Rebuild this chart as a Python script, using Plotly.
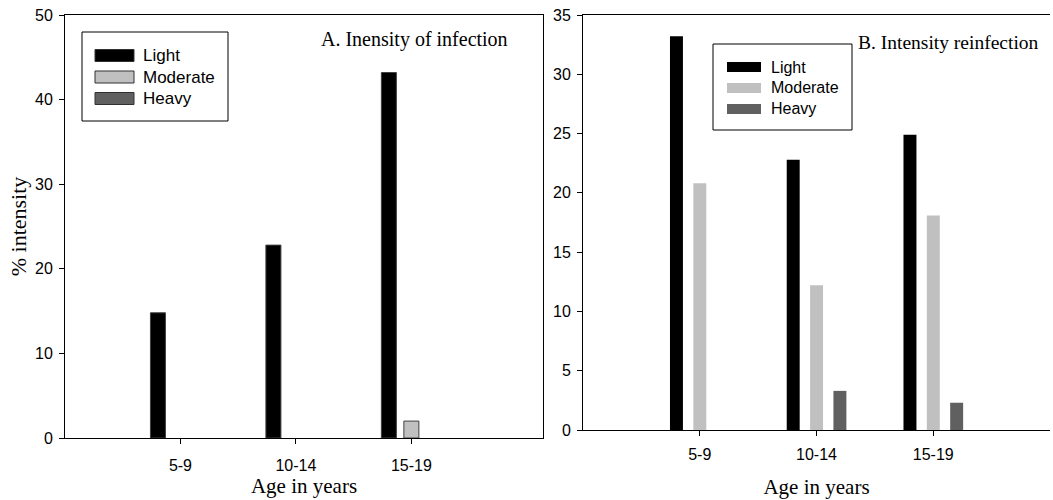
import plotly.graph_objects as go

# ---- data ----
ages = ["5-9", "10-14", "15-19"]
age_pos = [1, 2, 3]
series_names = ["Light", "Moderate", "Heavy"]

a_light = [14.8, 22.8, 43.2]
a_moderate = [None, None, 2.0]
a_heavy = [None, None, None]

b_light = [33.2, 22.8, 24.9]
b_moderate = [20.8, 12.2, 18.1]
b_heavy = [None, 3.3, 2.3]

a_yticks = [0, 10, 20, 30, 40, 50]
b_yticks = [0, 5, 10, 15, 20, 25, 30, 35]

# ---- style ----
colors = ["#000000", "#c0c0c0", "#606060"]
SANS = "Arial, Liberation Sans, sans-serif"
SERIF = "Times New Roman, Liberation Serif, serif"
W, H = 1053, 500
a_width, a_offsets = 0.13, [-0.26, -0.065, 0.13]
b_width, b_offsets = 0.111, [-0.255, -0.055, 0.145]

fig = go.Figure()

for name, vals, col, off in zip(series_names, [a_light, a_moderate, a_heavy], colors, a_offsets):
    fig.add_trace(go.Bar(
        x=age_pos, y=vals, name=name, width=a_width, offset=off,
        marker=dict(color=col, line=dict(color="#404040", width=1)),
        xaxis="x", yaxis="y", showlegend=False,
    ))

for name, vals, col, off in zip(series_names, [b_light, b_moderate, b_heavy], colors, b_offsets):
    fig.add_trace(go.Bar(
        x=age_pos, y=vals, name=name, width=b_width, offset=off,
        marker=dict(color=col, line=dict(width=0)),
        xaxis="x2", yaxis="y2", showlegend=False,
    ))

axis_common = dict(showline=True, linecolor="black", linewidth=1, showgrid=False,
                   zeroline=False, ticks="outside", ticklen=5, tickcolor="black",
                   automargin=False,
                   tickfont=dict(family=SANS, size=16, color="black"))

# ---- legend boxes (decoration, in pixel-derived paper coords) ----
shapes, annotations = [], []


def px(x):
    return x / W


def py(y):
    return 1 - y / H


def add_legend(box, sw_x0, sw_x1, sw_h, text_x, rows, font_size, outline):
    bx0, by0, bx1, by1 = box
    shapes.append(dict(type="rect", xref="paper", yref="paper",
                       x0=px(bx0), x1=px(bx1), y0=py(by1), y1=py(by0),
                       line=dict(color="black", width=1), fillcolor="white", layer="above"))
    for name, col, ry in zip(series_names, colors, rows):
        shapes.append(dict(type="rect", xref="paper", yref="paper",
                           x0=px(sw_x0), x1=px(sw_x1), y0=py(ry + sw_h / 2), y1=py(ry - sw_h / 2),
                           line=dict(color="#303030" if outline else col, width=1 if outline else 0),
                           fillcolor=col, layer="above"))
        annotations.append(dict(text=name, xref="paper", yref="paper", x=px(text_x), y=py(ry),
                                xanchor="left", yanchor="middle", showarrow=False,
                                font=dict(family=SANS, size=font_size, color="black")))


add_legend((82, 32, 228, 121), 95, 134, 12, 141, [55.5, 77, 98.5], 17, True)
add_legend((713, 44, 852, 130), 727, 761, 10, 769, [67, 88, 109], 16, False)

annotations += [
    dict(text="A. Inensity of infection", xref="paper", yref="paper", x=px(510), y=py(40),
         xanchor="right", yanchor="middle", showarrow=False,
         font=dict(family=SERIF, size=20, color="black")),
    dict(text="B. Intensity reinfection", xref="paper", yref="paper", x=px(1041), y=py(43),
         xanchor="right", yanchor="middle", showarrow=False,
         font=dict(family=SERIF, size=19.5, color="black")),
]

fig.update_layout(
    width=W, height=H,
    margin=dict(l=0, r=0, t=0, b=0),
    paper_bgcolor="white", plot_bgcolor="white",
    barmode="overlay",
    xaxis=dict(domain=[px(65), px(543)], range=[0, 4.14], tickvals=age_pos, ticktext=ages,
               mirror=True, anchor="y", ticklabelstandoff=8,
               title=dict(text="Age in years", font=dict(family=SERIF, size=21, color="black"), standoff=0),
               **axis_common),
    yaxis=dict(domain=[py(438), py(15)], range=[0, 50], tickvals=a_yticks, mirror=True, anchor="x",
               ticklabelstandoff=3,
               title=dict(text="% intensity", font=dict(family=SERIF, size=22, color="black"), standoff=2),
               **axis_common),
    xaxis2=dict(domain=[px(583), px(1050)], range=[0, 4], tickvals=age_pos, ticktext=ages,
                mirror=True, anchor="y2", ticklabelstandoff=5,
                title=dict(text="Age in years", font=dict(family=SERIF, size=21, color="black"), standoff=17),
                **axis_common),
    yaxis2=dict(domain=[py(430), py(15)], range=[0, 35], tickvals=b_yticks, mirror=False, anchor="x2",
                ticklabelstandoff=3,
                **axis_common),
    shapes=shapes,
    annotations=annotations,
)

fig.write_html("out.html")
